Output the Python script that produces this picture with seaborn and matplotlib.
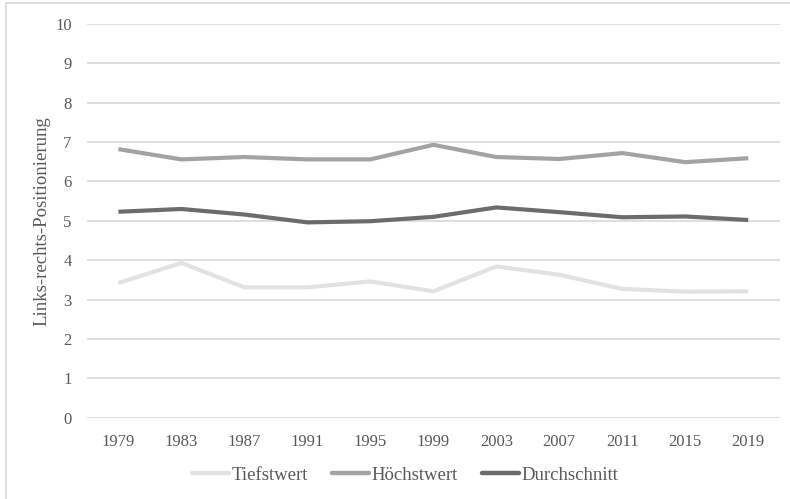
import matplotlib
matplotlib.use("Agg")
import matplotlib.pyplot as plt
from matplotlib.lines import Line2D
import seaborn as sns
import pandas as pd

years = ["1979", "1983", "1987", "1991", "1995", "1999", "2003", "2007", "2011", "2015", "2019"]
tiefstwert = [3.42, 3.93, 3.31, 3.31, 3.46, 3.21, 3.84, 3.63, 3.27, 3.20, 3.21]
hoechstwert = [6.82, 6.56, 6.62, 6.56, 6.56, 6.93, 6.62, 6.57, 6.72, 6.49, 6.59]
durchschnitt = [5.23, 5.30, 5.16, 4.96, 4.99, 5.10, 5.34, 5.22, 5.09, 5.11, 5.02]

series_names = ["Tiefstwert", "Höchstwert", "Durchschnitt"]
series_colors = ["#e2e2e2", "#a3a3a3", "#6c6c6c"]

rows = []
for name, vals in zip(series_names, [tiefstwert, hoechstwert, durchschnitt]):
    for i, v in enumerate(vals):
        rows.append({"pos": i, "Jahr": years[i], "Wert": v, "Reihe": name})
df = pd.DataFrame(rows)

sns.set_theme(style="white")
plt.rcParams["font.family"] = ["Liberation Serif", "DejaVu Serif"]

fig = plt.figure(figsize=(7.9, 4.99), dpi=100)
ax = fig.add_axes([0.110, 0.163, 0.877, 0.789])

sns.lineplot(data=df, x="pos", y="Wert", hue="Reihe", hue_order=series_names,
             palette=series_colors, linewidth=3, ax=ax, legend=False,
             solid_capstyle="butt", zorder=3)

ax.set_ylim(0, 10)
ax.set_xlim(-0.5, len(years) - 0.5)
ax.set_yticks(range(0, 11))
ax.set_xticks(range(len(years)))
ax.set_xticklabels(years)
ax.yaxis.grid(True, color="#d9d9d9", linewidth=1.2)
ax.xaxis.grid(False)
for side in ["top", "right", "left", "bottom"]:
    ax.spines[side].set_visible(False)
ax.tick_params(axis="both", length=0, labelsize=12, labelcolor="#595959")
ax.tick_params(axis="y", pad=11)
ax.tick_params(axis="x", pad=12)
ax.set_xlabel("")
ax.set_ylabel("Links-rechts-Positionierung", fontsize=13.5, color="#595959", labelpad=3)

handles = [Line2D([0], [0], color=c, linewidth=3.2) for c in series_colors]
fig.legend(handles, series_names, loc="center", bbox_to_anchor=(405 / 790, 1 - 475 / 499),
           ncol=3, frameon=False, fontsize=13.5, handlelength=2.0, handletextpad=0.1,
           columnspacing=1.3, labelcolor="#595959")

# light frame along the top and left edge of the figure
fig.add_artist(Line2D([6 / 790, 1.0], [1 - 3 / 499, 1 - 3 / 499], transform=fig.transFigure,
                      color="#d9d9d9", linewidth=1.2))
fig.add_artist(Line2D([6 / 790, 6 / 790], [0.0, 1 - 3 / 499], transform=fig.transFigure,
                      color="#d9d9d9", linewidth=1.2))

fig.savefig("out.png", dpi=100)
